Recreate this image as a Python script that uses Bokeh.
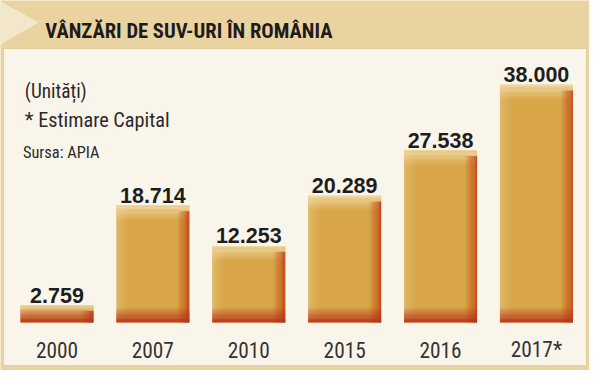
from bokeh.plotting import figure
from bokeh.models import Range1d, ColumnDataSource
from bokeh.core.properties import value
from bokeh.embed import file_html
from bokeh.resources import INLINE

# ---- data ----
title_text = "VÂNZĂRI DE SUV-URI ÎN ROMÂNIA"
unit_note = "(Unități)"
estimate_note = "* Estimare Capital"
source_note = "Sursa: APIA"
years = ["2000", "2007", "2010", "2015", "2016", "2017*"]
sales = [2759, 18714, 12253, 20289, 27538, 38000]
sales_labels = ["2.759", "18.714", "12.253", "20.289", "27.538", "38.000"]

# ---- layout (design canvas units) ----
W, H = 589, 370
RW, RH = 605, 386
S = (W / RW + H / RH) / 2
BASE_Y, TOP_Y = 336, 88
X0, STEP, BAR_W = 58, 98.5, 75
VPP = max(sales) / (BASE_Y - TOP_Y)      # value per design pixel
XPP = 1 / STEP                            # index units per design pixel

NARROW = "'Roboto Condensed', 'DejaVu Sans Condensed', 'Liberation Sans', sans-serif"
WIDE = "Liberation Sans"

TAN = "#e9d4a1"
LIGHT = "#f3e7c9"
PANEL = "#faf5ea"
GOLD = "#d9a647"
HILITE = "#f2dfae"
EDGE = "#c1491d"
DARK = "#b3301a"


def fs(px):
    return f"{px * S:.1f}px"


p = figure(width=W, height=H, x_range=Range1d(0, RW), y_range=Range1d(RH, 0),
           output_backend="svg", toolbar_location=None,
           x_axis_type=None, y_axis_type=None, min_border=0)
p.outline_line_color = None
p.grid.visible = False
p.background_fill_color = TAN
p.border_fill_color = TAN
p.extra_x_ranges = {"bar": Range1d((0 - X0) / STEP, (RW - X0) / STEP)}
p.extra_y_ranges = {"val": Range1d(-(RH - BASE_Y) * VPP, BASE_Y * VPP)}

# decorative frame
p.patch([0, 39, 0], [1, 23, 46], fill_color=LIGHT, line_color=None)
p.quad(left=[3], right=[602], top=[50], bottom=[381], fill_color=PANEL,
       line_color="#e2cc96", line_width=1)

# title and notes
p.text(x=[46], y=[31.5], text=[title_text], text_font=value(NARROW),
       text_font_style="bold", text_font_size=fs(21.3), text_color="#1f1b1c",
       text_baseline="alphabetic")
p.text(x=[25], y=[95], text=[unit_note], text_font=value(NARROW),
       text_font_size=fs(20), text_color="#2a2a2a", text_baseline="alphabetic")
p.text(x=[25], y=[125], text=[estimate_note], text_font=value(NARROW),
       text_font_size=fs(21), text_color="#2a2a2a", text_baseline="alphabetic")
p.text(x=[23], y=[159], text=[source_note], text_font=value(NARROW),
       text_font_size=fs(17), text_color="#2a2a2a", text_baseline="alphabetic")

idx = list(range(len(sales)))
bw = BAR_W * XPP
rk = dict(x_range_name="bar", y_range_name="val")

p.vbar(x=idx, top=sales, bottom=0, width=bw, fill_color=GOLD, line_color=None, **rk)


def layer(kind, n, step_px, amax):
    d = dict(left=[], right=[], top=[], bottom=[], alpha=[])
    for i, v in zip(idx, sales):
        l, r = i - bw / 2, i + bw / 2
        for k in range(n):
            a = amax * (1 - k / n)
            if kind == "top":
                t = v - k * step_px * VPP
                b = max(0, v - (k + 1) * step_px * VPP)
                if t <= 0:
                    continue
                d["left"].append(l); d["right"].append(r)
                d["top"].append(t); d["bottom"].append(b)
            elif kind == "bottom":
                b = k * step_px * VPP
                t = min(v, (k + 1) * step_px * VPP)
                if b >= v:
                    continue
                d["left"].append(l); d["right"].append(r)
                d["top"].append(t); d["bottom"].append(b)
            elif kind == "right":
                rr = r - k * step_px * XPP
                d["left"].append(rr - step_px * XPP); d["right"].append(rr)
                d["top"].append(max(0, v - 6 * VPP)); d["bottom"].append(0)
            elif kind == "left":
                ll = l + k * step_px * XPP
                d["left"].append(ll); d["right"].append(ll + step_px * XPP)
                d["top"].append(v); d["bottom"].append(0)
            d["alpha"].append(a)
    return ColumnDataSource(d)


for kind, n, st, amax, col in [("left", 6, 2, 0.3, HILITE),
                               ("top", 12, 1.3, 0.85, HILITE),
                               ("right", 10, 1.2, 0.95, EDGE),
                               ("bottom", 12, 1.3, 0.95, DARK)]:
    p.quad(left="left", right="right", top="top", bottom="bottom",
           source=layer(kind, n, st, amax), fill_color=col, fill_alpha="alpha",
           line_color=None, **rk)

# value labels and year labels
p.text(x=idx, y=[v + 10.5 * VPP for v in sales], text=sales_labels,
       text_font=value(WIDE), text_font_style="bold", text_font_size=fs(22.3),
       text_color="#1e1e1e", text_align="center", text_baseline="alphabetic", **rk)
p.text(x=idx, y=[-28.5 * VPP] * len(idx), text=years,
       text_font=value(NARROW), text_font_size=fs(22), text_color="#333333",
       text_align="center", text_baseline="alphabetic", **rk)

open("out.html", "w").write(file_html(p, INLINE))
